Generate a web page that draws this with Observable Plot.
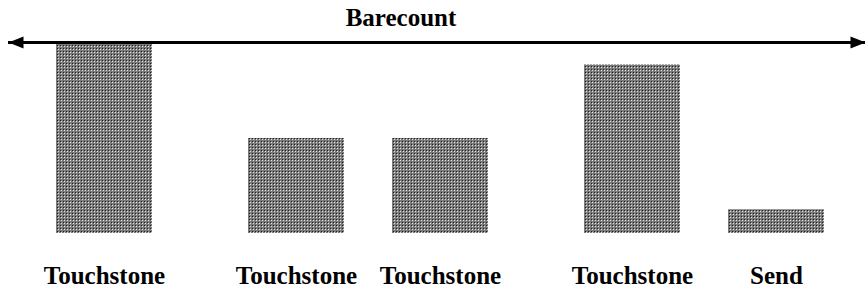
<!DOCTYPE html>
<html>
<head>
<meta charset="utf-8">
<script src="https://cdn.jsdelivr.net/npm/d3@7"></script>
<script src="https://cdn.jsdelivr.net/npm/@observablehq/plot@0.6"></script>
<style>
  html, body { margin: 0; padding: 0; background: #fff; }
  #chart svg { display: block; }
  #chart svg text { font-family: "Liberation Serif", "Times New Roman", serif !important; }
</style>
</head>
<body>
<div id="chart"></div>
<script>
const title = "Barecount";
const categories = ["Touchstone", "Touchstone", "Touchstone", "Touchstone", "Send"];
const values = [8, 4, 4, 7.1, 1];
const slots = [0, 4, 7, 11, 14];   // slot index of each bar along the axis
const barSpan = 2;

const data = categories.map((c, i) => ({ name: c, value: values[i], s: slots[i] }));

const leftHead = {
  draw(ctx) { ctx.moveTo(0, 0); ctx.lineTo(15, -6); ctx.lineTo(15, 6); ctx.closePath(); }
};
const rightHead = {
  draw(ctx) { ctx.moveTo(0, 0); ctx.lineTo(-15, -6); ctx.lineTo(-15, 6); ctx.closePath(); }
};

const font = "Liberation Serif, Times New Roman, serif";

const plot = Plot.plot({
  width: 865,
  height: 290,
  marginLeft: 8,
  marginRight: 0,
  marginTop: 43,
  marginBottom: 57,
  style: { fontFamily: font, background: "#fff" },
  x: { domain: [-1, 16.854], axis: null },
  y: { domain: [0, 8], axis: null },
  marks: [
    Plot.rectY(data, { x1: "s", x2: d => d.s + barSpan, y: "value", fill: "url(#dotpat)" }),
    Plot.ruleY([8], { stroke: "#000", strokeWidth: 3, dy: -1 }),
    Plot.dot([8], { y: d => d, frameAnchor: "left", symbol: leftHead, r: 6, fill: "#000", stroke: "none", dy: -1 }),
    Plot.dot([8], { y: d => d, frameAnchor: "right", symbol: rightHead, r: 6, fill: "#000", stroke: "none", dy: -1 }),
    Plot.text(data, { x: d => d.s + barSpan / 2, y: () => 0, text: "name", fontSize: 25, fontWeight: "bold", fontFamily: font, fill: "#000", lineAnchor: "bottom", dy: 50, textAnchor: "middle" }),
    Plot.text([title], { frameAnchor: "top", text: d => d, fontSize: 25, fontWeight: "bold", fontFamily: font, fill: "#000", lineAnchor: "bottom", dx: -36, dy: -18 })
  ]
});

const svg = d3.select(plot);
const defs = svg.insert("defs", ":first-child");
const pat = defs.append("pattern")
  .attr("id", "dotpat").attr("patternUnits", "userSpaceOnUse")
  .attr("width", 3).attr("height", 3);
pat.append("rect").attr("width", 3).attr("height", 3).attr("fill", "#7a7a7a");
pat.append("rect").attr("x", 1).attr("y", 1).attr("width", 1).attr("height", 1).attr("fill", "#e6e6e6");
pat.append("rect").attr("x", 0).attr("y", 0).attr("width", 1).attr("height", 1).attr("fill", "#222");

document.getElementById("chart").appendChild(plot);
</script>
</body>
</html>
